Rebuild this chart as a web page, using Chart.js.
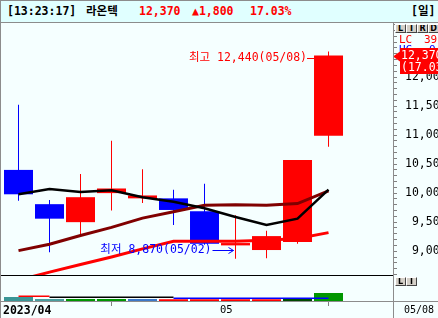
<!DOCTYPE html>
<html lang="ko"><head><meta charset="utf-8">
<title>라온텍</title>
<script src="https://cdn.jsdelivr.net/npm/chart.js@4.4.1/dist/chart.umd.min.js"></script>
<style>
html,body{margin:0;padding:0}
body{width:438px;height:318px;overflow:hidden;position:relative;background:#f5ffff;font-family:"DejaVu Sans Mono","Noto Sans CJK KR",monospace;}
.abs{position:absolute}
#hdr{left:0;top:0;width:438px;height:23px;box-sizing:border-box;background:#e0ffff;border-top:1px solid #8c8c8c;border-bottom:1px solid #8c8c8c;}
#hdr span{position:absolute;top:0;line-height:21px;font-size:11.5px;font-weight:bold;white-space:nowrap;color:#000}
#hdr span.red{color:#ff0000}
#cA{left:0;top:23px}
#cB{left:0;top:276px}
#sep{left:0;top:275px;width:393px;height:1px;background:#000}
#bot{left:0;top:301px;width:438px;height:1px;background:#8c8c8c}
#vline{left:393px;top:23px;width:1px;height:295px;background:#8c8c8c}
#lframe{left:0;top:0;width:1px;height:318px;background:#8c8c8c}
.btns{display:flex}
.btn{width:9px;height:7px;border:1px solid;border-color:#fff #444 #444 #fff;background:#d4d0c8;font:bold 8px/7px "DejaVu Sans",sans-serif;text-align:center;color:#000;overflow:hidden}
#lird{left:395px;top:24px}
#li{left:395px;top:277px}
#lastDate{left:404px;top:304px;font-size:10px;line-height:12px;color:#000}
</style></head>
<body>
<div id="hdr" class="abs"></div>
<canvas id="cA" class="abs" width="438" height="252"></canvas>
<div id="sep" class="abs"></div>
<canvas id="cB" class="abs" width="438" height="42"></canvas>
<div id="bot" class="abs"></div>
<div id="vline" class="abs"></div>
<div id="lframe" class="abs"></div>
<div id="lird" class="abs btns"><span class="btn">L</span><span class="btn">I</span><span class="btn">R</span><span class="btn">D</span></div>
<div id="li" class="abs btns"><span class="btn">L</span><span class="btn">I</span></div>
<div id="lastDate" class="abs"></div>
<script>
// ---- data ----
const stockName = '라온텍';
const timeStamp = '13:23:17';
const periodLabel = '일';
const yearLabel = '2023';
const dates  = ['04/20','04/21','04/24','04/25','04/26','04/27','04/28','05/02','05/03','05/04','05/08'];
const opens  = [10400, 9810, 9500, 10000, 9910, 9910, 9690, 9100, 9020, 9160, 10990];
const highs  = [11520, 9880, 10330, 10900, 10410, 10060, 10160, 9620, 9350, 10570, 12440];
const lows   = [9870, 8980, 9290, 9700, 9830, 9450, 9110, 8870, 8880, 9130, 10800];
const closes = [9980, 9560, 9930, 10080, 9960, 9710, 9130, 9140, 9260, 10570, 12370];
const ma5    = [9980, 10070, 10020, 10050, 9930, 9850, 9740, 9590, 9450, 9560, 10060];
const ma10   = [9010, 9120, 9270, 9410, 9570, 9680, 9790, 9800, 9790, 9820, 10040];
const ma20   = [8500, 8640, 8770, 8900, 9040, 9170, 9170, 9170, 9190, 9220, 9320];
const volumes  = [16, 8, 8, 8, 8, 7, 7, 7, 7, 8, 32];
const volMaRed   = [19, 19, null, null, null, null, null, null, null, null, null];
const volMaBlack = [null, 15, 15, 15, 15, 15, null, null, null, null, null];
const volMaBlue  = [null, null, null, null, null, 11, 11, 11, 11, 11, 11];
const priceTicksStep = 100, priceLabelStep = 500;
const indicatorLC = ['LC', '39'], indicatorHC = ['HC', '0'];

// ---- axis ranges / styles ----
const yMin = 8590, yMax = 12930, xMin = -0.5, xMax = 12.08, volMax = 100;
const upColor = '#ff0000', downColor = '#0000ff';
const volColors = ['#3a9696','#4a9e9e','#009600','#009600','#3c78c8','#ff0000','#ff0000','#ff0000','#ff0000','#004800','#009600'];
const MONO = '"DejaVu Sans Mono", "Noto Sans CJK KR", monospace';
const BG = '#f5ffff';
const fmt = v => v.toLocaleString('en-US');

// ---- header ----
const lastI = closes.length - 1;
const prevClose = closes[lastI - 1];
const chg = closes[lastI] - prevClose;
const pct = (chg / prevClose * 100).toFixed(2);
const hdrItems = [
  ['[' + timeStamp + ']', 7, ''],
  [stockName, 86, ''],
  [fmt(closes[lastI]), 139, 'red'],
  [(chg >= 0 ? '▲' : '▼') + fmt(Math.abs(chg)), 192, 'red'],
  [pct + '%', 250, 'red'],
  ['[' + periodLabel + ']', 411, '']
];
const hdr = document.getElementById('hdr');
hdrItems.forEach(([t, x, c]) => { const s = document.createElement('span'); s.textContent = t; s.style.left = x + 'px'; if (c) s.className = c; hdr.appendChild(s); });
document.getElementById('lastDate').textContent = dates[lastI];

// month ticks for x axis
const monthTicks = [], monthLabels = [];
dates.forEach((d, i) => {
  const m = d.slice(0, 2);
  if (i === 0 || m !== dates[i - 1].slice(0, 2)) { monthTicks.push(i - 0.5); monthLabels.push(i === 0 ? yearLabel + '/' + m : m); }
});

const candleColor = ctx => closes[ctx.dataIndex] >= opens[ctx.dataIndex] ? upColor : downColor;
const pts = arr => arr.map((v, i) => ({x: i, y: v}));

const overlayA = {
  id: 'overlayA',
  afterDatasetsDraw(chart) {
    const ctx = chart.ctx, xs = chart.scales.x, ys = chart.scales.y;
    const bodyMeta = chart.getDatasetMeta(4);
    ctx.save();
    ctx.font = '11.5px ' + MONO;
    ctx.textBaseline = 'middle';
    // highest
    const hi = Math.max(...highs), hiI = highs.indexOf(hi);
    const hx = xs.getPixelForValue(hiI), hy = ys.getPixelForValue(hi);
    const half = bodyMeta.data[hiI].width / 2;
    const bl = hx - half;
    ctx.fillStyle = upColor; ctx.strokeStyle = upColor; ctx.lineWidth = 1;
    ctx.textAlign = 'right';
    ctx.fillText('최고 ' + fmt(hi) + '(' + dates[hiI] + ')', bl - 7, hy + 6.5);
    ctx.beginPath(); ctx.moveTo(bl - 7, Math.round(hy + 7) + 0.5); ctx.lineTo(bl, Math.round(hy + 7) + 0.5); ctx.stroke();
    // lowest
    const lo = Math.min(...lows), loI = lows.indexOf(lo);
    const lx = xs.getPixelForValue(loI), ly = ys.getPixelForValue(lo);
    ctx.fillStyle = downColor; ctx.strokeStyle = downColor;
    const ay = Math.round(ly - 8.5) + 0.5;
    ctx.fillText('최저 ' + fmt(lo) + '(' + dates[loI] + ')', lx - 24, ly - 9);
    ctx.beginPath(); ctx.moveTo(lx - 23, ay); ctx.lineTo(lx - 2, ay);
    ctx.moveTo(lx - 7, ay - 3); ctx.lineTo(lx - 2, ay); ctx.lineTo(lx - 7, ay + 3); ctx.stroke();
    ctx.restore();
  },
  afterDraw(chart) {
    const ctx = chart.ctx, ys = chart.scales.y;
    const ax = chart.chartArea.right;
    const c = closes[lastI], py = ys.getPixelForValue(c);
    const tagTop = Math.round(py - 8);
    ctx.save();
    // legend box (covers axis labels under it)
    ctx.fillStyle = BG;
    ctx.fillRect(ax + 5, 11, 50, tagTop - 11);
    ctx.font = '11px ' + MONO;
    ctx.textBaseline = 'middle'; ctx.textAlign = 'left';
    ctx.fillStyle = '#ff0000';
    ctx.fillText(indicatorLC[0], ax + 6, 17); ctx.fillText(indicatorLC[1], ax + 31, 17);
    ctx.fillStyle = '#0000ff';
    ctx.fillText(indicatorHC[0], ax + 6, 27); ctx.fillText(indicatorHC[1], ax + 36, 27);
    // current price tag
    ctx.fillStyle = '#ff0000';
    ctx.fillRect(ax + 7, tagTop, 45, 26);
    ctx.beginPath(); ctx.moveTo(ax, py + 1); ctx.lineTo(ax + 7, py - 4); ctx.lineTo(ax + 7, py + 6); ctx.closePath(); ctx.fill();
    ctx.fillStyle = '#ffffff';
    ctx.font = '11.5px ' + MONO;
    ctx.fillText(fmt(c), ax + 8, py + 0.5);
    ctx.fillText('(' + pct + '%)', ax + 8, py + 12.5);
    ctx.restore();
  }
};

new Chart(document.getElementById('cA'), {
  type: 'bar',
  data: { datasets: [
    { type: 'line', label: 'MA20', data: pts(ma20), borderColor: '#ff0000', borderWidth: 3, pointRadius: 0, tension: 0, order: 3 },
    { type: 'line', label: 'MA10', data: pts(ma10), borderColor: '#800000', borderWidth: 3, pointRadius: 0, tension: 0, order: 2 },
    { type: 'line', label: 'MA5', data: pts(ma5), borderColor: '#000000', borderWidth: 2.5, pointRadius: 0, tension: 0, order: 1 },
    { type: 'bar', label: 'wick', data: highs.map((h, i) => ({x: i, y: [lows[i], h]})), backgroundColor: candleColor, barThickness: 1, grouped: false, inflateAmount: 0, order: 5 },
    { type: 'bar', label: 'body', data: opens.map((o, i) => ({x: i, y: [o, closes[i]]})), backgroundColor: candleColor, barThickness: 29, grouped: false, inflateAmount: 0, order: 4 }
  ]},
  options: {
    responsive: false, animation: false, devicePixelRatio: 1, events: [],
    layout: { padding: { left: 3, right: 0, top: 0, bottom: 0 } },
    plugins: { legend: { display: false }, tooltip: { enabled: false } },
    scales: {
      x: { type: 'linear', display: false, min: xMin, max: xMax, offset: false,
           afterBuildTicks: s => { s.ticks = monthTicks.map(v => ({value: v})); } },
      y: { type: 'linear', position: 'right', min: yMin, max: yMax,
           afterBuildTicks: s => { const t = []; for (let v = Math.ceil(s.min / priceTicksStep) * priceTicksStep; v <= s.max; v += priceTicksStep) t.push({value: v}); s.ticks = t; },
           afterFit: s => { s.width = 45; s.paddingTop = 0; s.paddingBottom = 0; },
           ticks: { autoSkip: false, crossAlign: 'near', padding: 8, color: '#000',
                    font: { family: MONO, size: 11.5 },
                    callback: v => (v % priceLabelStep === 0 ? fmt(v).padStart(6, ' ') : '') },
           grid: { drawOnChartArea: false, drawTicks: true, tickLength: 4, tickColor: '#808080' },
           border: { display: false } }
    }
  },
  plugins: [overlayA]
});

new Chart(document.getElementById('cB'), {
  type: 'bar',
  data: { datasets: [
    { type: 'line', data: pts(volMaRed), borderColor: '#ff0000', borderWidth: 1.5, pointRadius: 0, order: 1 },
    { type: 'line', data: pts(volMaBlack), borderColor: '#000000', borderWidth: 1.5, pointRadius: 0, order: 1 },
    { type: 'line', data: pts(volMaBlue), borderColor: '#0000ff', borderWidth: 1.5, pointRadius: 0, order: 1 },
    { type: 'bar', data: pts(volumes), backgroundColor: volColors, barThickness: 29, grouped: false, inflateAmount: 0, order: 2 }
  ]},
  options: {
    responsive: false, animation: false, devicePixelRatio: 1, events: [],
    layout: { padding: { left: 3, right: 0, top: 0, bottom: 0 } },
    plugins: { legend: { display: false }, tooltip: { enabled: false } },
    scales: {
      x: { type: 'linear', min: xMin, max: xMax, offset: false,
           afterBuildTicks: s => { s.ticks = monthTicks.map(v => ({value: v})); },
           afterFit: s => { s.height = 17; s.paddingLeft = 0; s.paddingRight = 0; },
           ticks: { autoSkip: false, align: 'start', padding: -2, color: '#000', maxRotation: 0,
                    font: c => ({ family: MONO, size: c.index === 0 ? 11.5 : 10.5, weight: c.index === 0 ? 'bold' : 'normal' }),
                    callback: (v, i) => monthLabels[i] },
           grid: { drawOnChartArea: false, drawTicks: true, tickLength: 5, tickColor: '#808080' },
           border: { display: false } },
      y: { type: 'linear', position: 'right', min: 0, max: volMax,
           afterFit: s => { s.width = 45; s.paddingTop = 0; s.paddingBottom = 0; },
           ticks: { display: false }, grid: { display: false }, border: { display: false } }
    }
  }
});
</script>
</body></html>
